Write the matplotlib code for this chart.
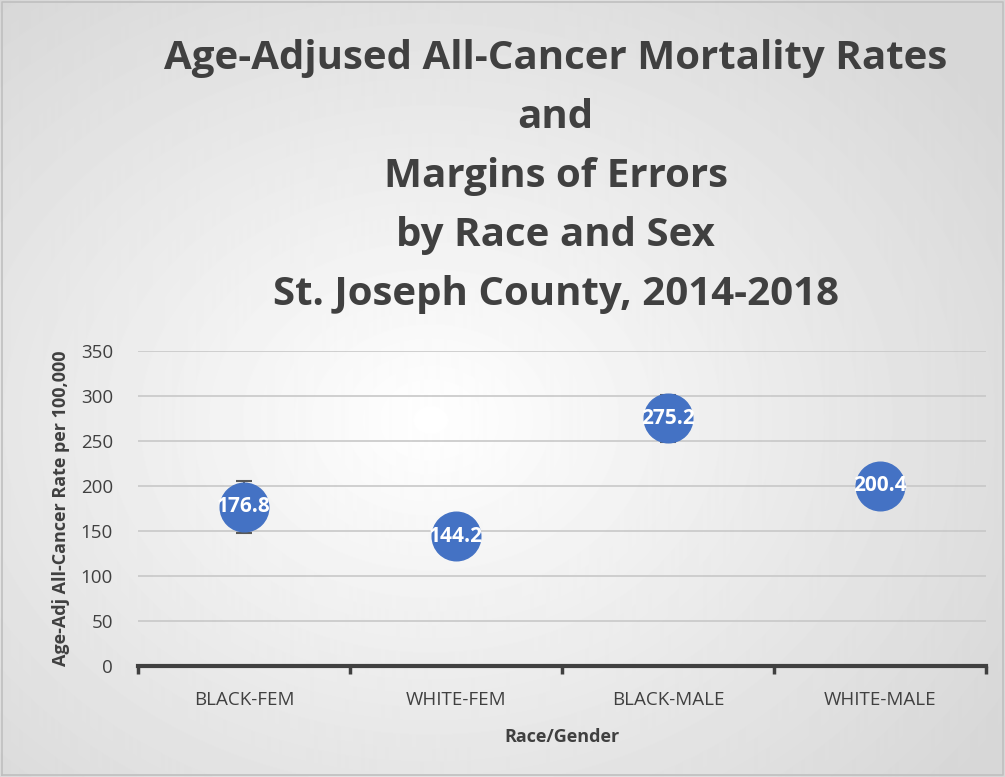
import numpy as np
import matplotlib.pyplot as plt

# data
categories = ['BLACK-FEM', 'WHITE-FEM', 'BLACK-MALE', 'WHITE-MALE']
rates = [176.8, 144.2, 275.2, 200.4]
margins = [28.5, 8.0, 26.0, 7.0]
yticks = [0, 50, 100, 150, 200, 250, 300, 350]

title = ('Age-Adjused All-Cancer Mortality Rates\nand\nMargins of Errors\n'
         'by Race and Sex\nSt. Joseph County, 2014-2018')

plt.rcParams['font.family'] = ['Open Sans', 'DejaVu Sans']

fig = plt.figure(figsize=(10.05, 7.77), dpi=100)

# radial gradient background
bg = fig.add_axes([0, 0, 1, 1], zorder=-10)
yy, xx = np.mgrid[0:777, 0:1005]
r = np.sqrt(((xx - 430) / 700.0) ** 2 + ((yy - 420) / 560.0) ** 2)
shade = 1.0 - 0.16 * np.clip(r, 0, 1)
bg.imshow(shade, cmap='gray', vmin=0, vmax=1, aspect='auto', extent=[0, 1, 0, 1])
bg.plot([0.002, 0.998, 0.998, 0.002, 0.002], [0.002, 0.002, 0.998, 0.998, 0.002],
        color='#bfbfbf', lw=1.2)
bg.set_xlim(0, 1)
bg.set_ylim(0, 1)
bg.axis('off')

ax = fig.add_axes([138 / 1005, 1 - 666 / 777, (986 - 138) / 1005, (666 - 351) / 777])
ax.patch.set_alpha(0)

x = np.arange(len(categories))
ax.errorbar(x, rates, yerr=margins, fmt='none', ecolor='#595959', elinewidth=1.5,
            capsize=6, capthick=1.5, zorder=3)
ax.plot(x, rates, 'o', ms=35, color='#4472C4', zorder=4)
for xi, v in zip(x, rates):
    ax.text(xi, v, f'{v}', ha='center', va='center', color='white',
            fontsize=15, fontweight='bold', zorder=5, clip_on=False)

ax.set_xlim(-0.5, len(categories) - 0.5)
ax.set_ylim(0, 350)
ax.set_yticks(yticks)
ax.set_yticklabels([str(t) for t in yticks], fontsize=13.5, color='#404040')
ax.set_xticks(x)
ax.set_xticklabels(categories, fontsize=13.5, color='#404040')
ax.set_xticks(np.arange(len(categories) + 1) - 0.5, minor=True)
ax.tick_params(axis='y', length=0, pad=18)
ax.tick_params(axis='x', which='major', length=0, pad=18)
ax.tick_params(axis='x', which='minor', length=6, width=2.5, color='#404040')
ax.grid(axis='y', color='#c8c8c8', lw=1.2)
ax.set_axisbelow(True)
for s in ['top', 'right', 'left']:
    ax.spines[s].set_visible(False)
ax.spines['bottom'].set_color('#404040')
ax.spines['bottom'].set_linewidth(3)

ax.set_xlabel('Race/Gender', fontsize=13, fontweight='bold', color='#404040', labelpad=14)
ax.set_ylabel('Age-Adj All-Cancer Rate per 100,000', fontsize=13, fontweight='bold',
              color='#404040', labelpad=8)

fig.text(0.553, 0.95, title, ha='center', va='top', fontsize=29, fontweight='bold',
         color='#404040', linespacing=1.67)

fig.savefig('out.png', dpi=100)
